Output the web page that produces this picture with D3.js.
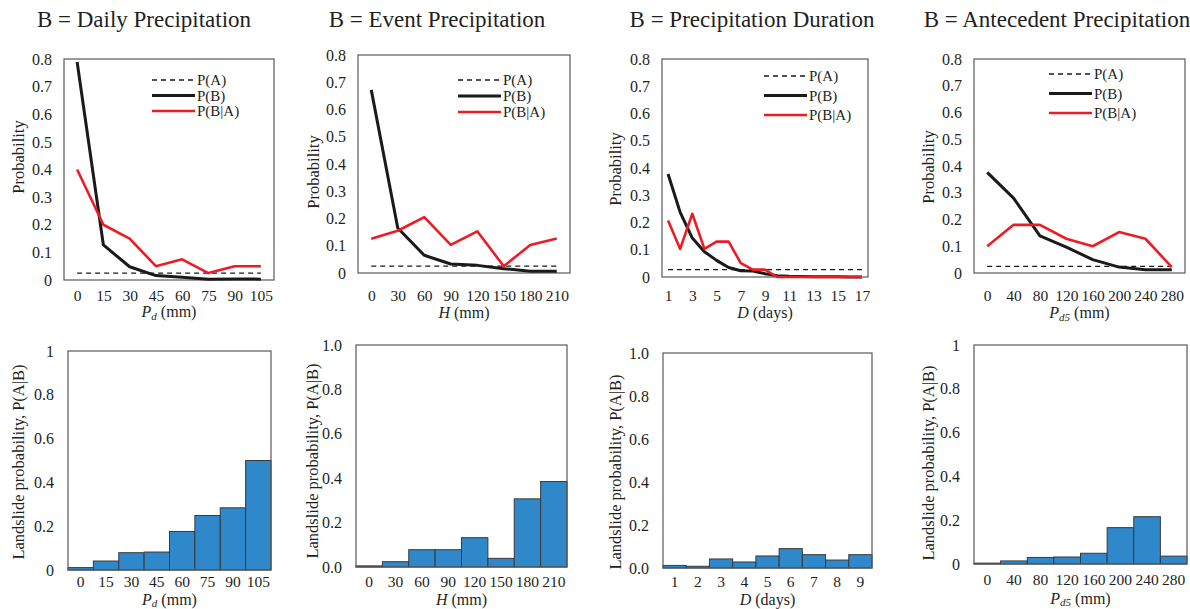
<!DOCTYPE html>
<html>
<head>
<meta charset="utf-8">
<script src="https://cdn.jsdelivr.net/npm/d3@7"></script>
<style>
body { margin: 0; background: #fff; }
</style>
</head>
<body>
<svg id="chart" width="1190" height="609"></svg>
<script>
"use strict";

// B = Daily Precipitation (Pd)
const pdCats = [0, 15, 30, 45, 60, 75, 90, 105];
const pdPA = 0.025;
const pdPB = [0.789, 0.127, 0.048, 0.016, 0.010, 0.003, 0.004, 0.003];
const pdPBA = [0.40, 0.20, 0.15, 0.05, 0.075, 0.025, 0.05, 0.05];
const pdPAB = [0.011, 0.041, 0.079, 0.082, 0.176, 0.249, 0.284, 0.50];

// B = Event Precipitation (H)
const hCats = [0, 30, 60, 90, 120, 150, 180, 210];
const hPA = 0.025;
const hPB = [0.672, 0.165, 0.065, 0.033, 0.028, 0.016, 0.006, 0.006];
const hPBA = [0.126, 0.155, 0.205, 0.103, 0.153, 0.025, 0.103, 0.127];
const hPAB = [0.005, 0.024, 0.078, 0.078, 0.132, 0.039, 0.307, 0.385];

// B = Precipitation Duration (D)
const dCats = [1, 2, 3, 4, 5, 6, 7, 8, 9, 10, 11, 12, 13, 14, 15, 16, 17];
const dTicks = [1, 3, 5, 7, 9, 11, 13, 15, 17];
const dPA = 0.027;
const dPB = [0.378, 0.237, 0.143, 0.093, 0.061, 0.035, 0.023, 0.022, 0.012, 0.005, 0.003, 0.002, 0.001, 0.001, 0.001, 0, 0];
const dPBA = [0.207, 0.103, 0.232, 0.103, 0.13, 0.13, 0.051, 0.027, 0.027, 0, 0, 0, 0, 0, 0, 0, 0];
const dBarCats = [1, 2, 3, 4, 5, 6, 7, 8, 9];
const dPAB = [0.012, 0.008, 0.042, 0.028, 0.056, 0.090, 0.062, 0.037, 0.062];

// B = Antecedent Precipitation (Pd5)
const pd5Cats = [0, 40, 80, 120, 160, 200, 240, 280];
const pd5PA = 0.025;
const pd5PB = [0.376, 0.28, 0.139, 0.097, 0.05, 0.022, 0.012, 0.012];
const pd5PBA = [0.10, 0.18, 0.18, 0.128, 0.10, 0.153, 0.128, 0.022];
const pd5PAB = [0.004, 0.014, 0.030, 0.032, 0.049, 0.166, 0.216, 0.036];

const topYTicks = [0, 0.1, 0.2, 0.3, 0.4, 0.5, 0.6, 0.7, 0.8];
const bottomYTicks = [0, 0.2, 0.4, 0.6, 0.8, 1];

const titles = ["B = Daily Precipitation", "B = Event Precipitation", "B = Precipitation Duration", "B = Antecedent Precipitation"];
const legendNames = ["P(A)", "P(B)", "P(B|A)"];

const xLabels = [
    [{ t: "P", it: true }, { t: "d", it: true, sub: true }, { t: " (mm)" }],
    [{ t: "H", it: true }, { t: " (mm)" }],
    [{ t: "D", it: true }, { t: " (days)" }],
    [{ t: "P", it: true }, { t: "d5", it: true, sub: true }, { t: " (mm)" }]
];

const serif = "Liberation Serif";
const textColor = "#231f20";

const lineCharts = [
    { cats: pdCats, ticks: pdCats, pA: pdPA, pB: pdPB, pBA: pdPBA, box: { l: 64, r: 274, t: 59, b: 280 }, titleX: 144, yLab: [24, 157], leg: [152, 80, 15.5], xLab: 317, subDy: 3 },
    { cats: hCats, ticks: hCats, pA: hPA, pB: hPB, pBA: hPBA, box: { l: 358, r: 570, t: 55, b: 273 }, titleX: 437, yLab: [319, 172], leg: [458, 80, 16], xLab: 318, subDy: 3 },
    { cats: dCats, ticks: dTicks, pA: dPA, pB: dPB, pBA: dPBA, box: { l: 662, r: 868, t: 59, b: 277 }, titleX: 752, yLab: [621, 169], leg: [764, 76, 19.5], xLab: 318, subDy: 3 },
    { cats: pd5Cats, ticks: pd5Cats, pA: pd5PA, pB: pd5PB, pBA: pd5PBA, box: { l: 974, r: 1185, t: 59, b: 273 }, titleX: 1057, yLab: [934, 167], leg: [1049, 74, 19.5], xLab: 318, subDy: 3 }
];

const barCharts = [
    { cats: pdCats, vals: pdPAB, fmt: d => d === 0 || d === 1 ? String(d) : d3.format(".1f")(d), box: { l: 68, r: 271, t: 351, b: 570 }, yLab: [24, 462], tickBase: 587, xLab: 605, subDy: 1.5 },
    { cats: hCats, vals: hPAB, fmt: d3.format(".1f"), box: { l: 356, r: 567, t: 345, b: 567 }, yLab: [318, 461], tickBase: 587, xLab: 605, subDy: 1.5 },
    { cats: dBarCats, vals: dPAB, fmt: d3.format(".1f"), box: { l: 663, r: 872, t: 353, b: 568 }, yLab: [621, 472], tickBase: 587, xLab: 605, subDy: 1.5 },
    { cats: pd5Cats, vals: pd5PAB, fmt: d => d === 0 || d === 1 ? String(d) : d3.format(".1f")(d), box: { l: 974, r: 1187, t: 345, b: 564 }, yLab: [934, 463], tickBase: 585, xLab: 604, subDy: 1.5 }
];

const frameColor = "#595959";
const red = "#ed1c24";
const black = "#1a1a1a";
const barFill = "#2e88c9";

const svg = d3.select("#chart");

function addText(parent, size) {
    return parent.append("text")
        .attr("font-family", serif)
        .attr("font-size", size)
        .attr("fill", textColor);
}

function drawXLabel(g, parts, x, y, subDy) {
    let txt = addText(g, 16)
        .attr("x", x)
        .attr("y", y)
        .attr("text-anchor", "middle");
    parts.forEach((p, i) => {
        let ts = txt.append("tspan").text(p.t);
        if (p.it) ts.attr("font-style", "italic");
        if (p.sub) ts.attr("dy", subDy).attr("font-size", 11);
        else if (i > 0 && parts[i - 1].sub) ts.attr("dy", -subDy);
    });
}

function styleAxisText(g, size) {
    g.select(".domain").remove();
    g.attr("font-family", serif).attr("font-size", size);
    g.selectAll("text")
        .attr("font-family", serif)
        .attr("font-size", size)
        .attr("fill", textColor);
}

function drawLineChart(c, i) {
    let xScale = d3.scalePoint().domain(c.cats).range([c.box.l, c.box.r]).padding(0.5);
    let yScale = d3.scaleLinear().domain([0, 0.8]).range([c.box.b, c.box.t]);
    let g = svg.append("g").attr("class", "linePanel");

    addText(svg, 23)
        .attr("x", c.titleX)
        .attr("y", 27)
        .attr("text-anchor", "middle")
        .text(titles[i]);

    g.append("rect")
        .attr("x", c.box.l).attr("y", c.box.t)
        .attr("width", c.box.r - c.box.l).attr("height", c.box.b - c.box.t)
        .attr("fill", "none").attr("stroke", frameColor).attr("stroke-width", 1.2);

    let yAxis = g.append("g")
        .attr("transform", `translate(${c.box.l},0)`)
        .call(d3.axisLeft(yScale).tickValues(topYTicks).tickSize(0).tickPadding(12)
            .tickFormat(d => d === 0 ? "0" : d3.format(".1f")(d)));
    styleAxisText(yAxis, 16);

    let xAxis = g.append("g")
        .attr("transform", `translate(0,${c.box.b})`)
        .call(d3.axisBottom(xScale).tickValues(c.ticks).tickSize(0).tickPadding(290 - c.box.b));
    styleAxisText(xAxis, 15.5);

    let line = d3.line()
        .x(d => xScale(d[0]))
        .y(d => yScale(d[1]));

    let first = c.cats[0], last = c.cats[c.cats.length - 1];
    g.append("path")
        .datum([[first, c.pA], [last, c.pA]])
        .attr("d", line)
        .attr("fill", "none").attr("stroke", black)
        .attr("stroke-width", 1.3).attr("stroke-dasharray", "5,4");
    g.append("path")
        .datum(c.cats.map((k, j) => [k, c.pB[j]]))
        .attr("d", line)
        .attr("fill", "none").attr("stroke", black).attr("stroke-width", 3)
        .attr("stroke-linejoin", "round");
    g.append("path")
        .datum(c.cats.map((k, j) => [k, c.pBA[j]]))
        .attr("d", line)
        .attr("fill", "none").attr("stroke", red).attr("stroke-width", 2.6)
        .attr("stroke-linejoin", "round");

    // legend
    let styles = [
        { stroke: black, w: 1.3, dash: "5,4" },
        { stroke: black, w: 3, dash: null },
        { stroke: red, w: 2.6, dash: null }
    ];
    legendNames.forEach((name, k) => {
        let y = c.leg[1] + k * c.leg[2];
        g.append("line")
            .attr("x1", c.leg[0]).attr("x2", c.leg[0] + 43)
            .attr("y1", y).attr("y2", y)
            .attr("stroke", styles[k].stroke).attr("stroke-width", styles[k].w)
            .attr("stroke-dasharray", styles[k].dash);
        addText(g, 15)
            .attr("x", c.leg[0] + 45).attr("y", y + 5)
            .text(name);
    });

    addText(g, 16.5)
        .attr("transform", `translate(${c.yLab[0]},${c.yLab[1]}) rotate(-90)`)
        .attr("text-anchor", "middle")
        .text("Probability");

    drawXLabel(g, xLabels[i], (c.box.l + c.box.r) / 2, c.xLab, c.subDy);
}

function drawBarChart(c, i) {
    let xScale = d3.scaleBand().domain(c.cats).range([c.box.l, c.box.r]).padding(0);
    let yScale = d3.scaleLinear().domain([0, 1]).range([c.box.b, c.box.t]);
    let g = svg.append("g").attr("class", "barPanel");

    g.selectAll("rect.bar")
        .data(c.cats.map((k, j) => ({ k: k, v: c.vals[j] })))
        .enter()
        .append("rect")
        .attr("class", "bar")
        .attr("x", d => xScale(d.k))
        .attr("y", d => yScale(d.v))
        .attr("width", xScale.bandwidth())
        .attr("height", d => yScale(0) - yScale(d.v))
        .attr("fill", barFill)
        .attr("stroke", "#3a3a3a")
        .attr("stroke-width", 1);

    g.append("rect")
        .attr("x", c.box.l).attr("y", c.box.t)
        .attr("width", c.box.r - c.box.l).attr("height", c.box.b - c.box.t)
        .attr("fill", "none").attr("stroke", frameColor).attr("stroke-width", 1.2);

    let yAxis = g.append("g")
        .attr("transform", `translate(${c.box.l},0)`)
        .call(d3.axisLeft(yScale).tickValues(bottomYTicks).tickSize(0).tickPadding(14).tickFormat(c.fmt));
    styleAxisText(yAxis, 16);

    let xAxis = g.append("g")
        .attr("transform", `translate(0,${c.box.b})`)
        .call(d3.axisBottom(xScale).tickSize(0).tickPadding(c.tickBase - 11 - c.box.b));
    styleAxisText(xAxis, 15.5);

    addText(g, 16.5)
        .attr("transform", `translate(${c.yLab[0]},${c.yLab[1]}) rotate(-90)`)
        .attr("text-anchor", "middle")
        .text("Landslide probability, P(A|B)");

    drawXLabel(g, xLabels[i], (c.box.l + c.box.r) / 2, c.xLab, c.subDy);
}

lineCharts.forEach(drawLineChart);
barCharts.forEach(drawBarChart);
</script>
</body>
</html>
